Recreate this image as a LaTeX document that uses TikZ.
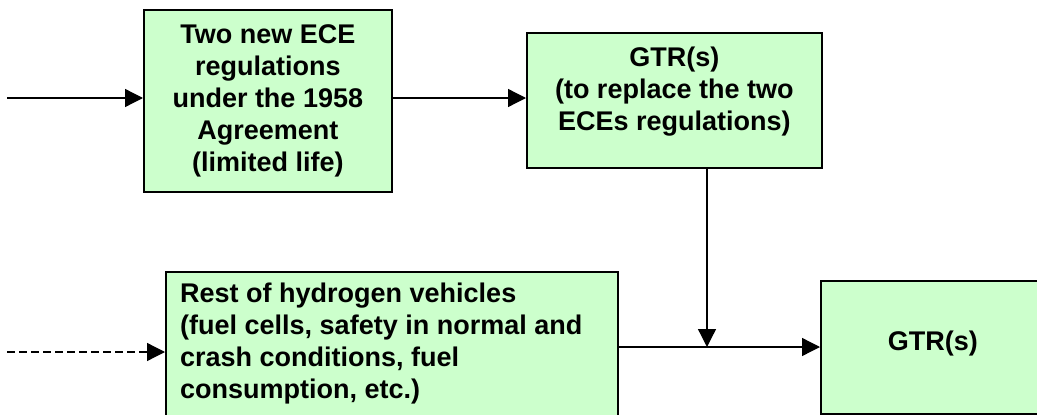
\documentclass[tikz,border=0pt]{standalone}
\usepackage{fontspec}
\setmainfont{Liberation Sans}
\usepackage{tikz}
\usetikzlibrary{arrows.meta}
\definecolor{boxgreen}{HTML}{CCFFCC}

\begin{document}
\begin{tikzpicture}[
    x=1pt, y=-1pt,
    every node/.style={font=\fontsize{27}{32}\selectfont\bfseries},
    abox/.style={rectangle, draw=black, line width=1.6pt, fill=boxgreen,
                 anchor=north west, inner sep=0pt, align=center},
    btext/.style={inner sep=0pt},
    arrow/.style={line width=1.3pt, -{Triangle[length=18pt, width=18pt]}}
]
\clip (0,0) rectangle (1037,415);
\useasboundingbox (0,0) rectangle (1037,415);

% boxes
\node[abox, minimum width=248pt, minimum height=182pt] (ecebox) at (143,9)
    {Two new ECE\\regulations\\under the 1958\\Agreement\\(limited life)};
\node[abox, minimum width=295pt, minimum height=135pt] (gtrbox) at (526,32) {};
\node[btext, anchor=north, align=center] (gtrtext) at ([yshift=-15pt]gtrbox.north)
    {GTR(s)\\(to replace the two\\ECEs regulations)};
\node[abox, minimum width=452pt, minimum height=170pt] (restbox) at (165,271) {};
\node[btext, anchor=north west, align=left] (resttext) at ([xshift=15pt, yshift=-12pt]restbox.north west)
    {Rest of hydrogen vehicles\\(fuel cells, safety in normal and\\crash conditions, fuel\\consumption, etc.)};
\node[abox, minimum width=224pt, minimum height=133pt] (finalbox) at (820,280) {};
\node[btext, anchor=base] (finaltext) at ([yshift=-3pt]finalbox.center) {GTR(s)};

% connectors
\coordinate (ecein) at (7,98);
\coordinate (restin) at (7,352);
\coordinate (merge) at (707,347);
\draw[arrow] (ecein) -- (ecein -| ecebox.west);
\draw[arrow] (ecein -| ecebox.east) -- (ecein -| gtrbox.west);
\draw[arrow, dash pattern=on 8pt off 4pt] (restin) -- (restin -| restbox.west);
\draw[arrow] (restbox.east |- merge) -- (merge -| finalbox.west);
\draw[arrow] (gtrbox.south -| merge) -- (merge);
\end{tikzpicture}
\end{document}
